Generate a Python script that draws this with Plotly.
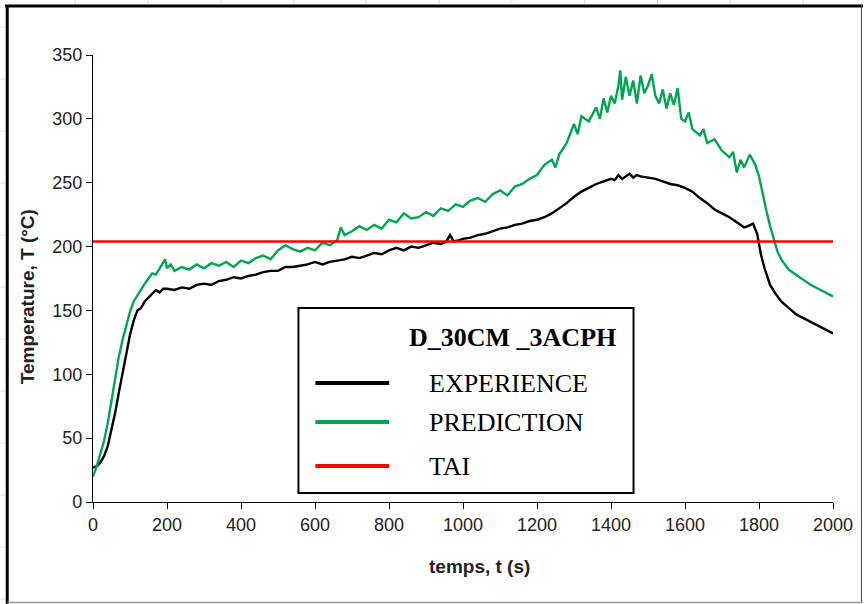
import plotly.graph_objects as go

# ---------------- data ----------------
t_exp = [0, 10, 20, 30, 40, 50, 60, 70, 80, 90, 100, 110, 120, 130, 140, 150, 160, 170, 180, 190,
         200, 220, 240, 260, 280, 300, 320, 340, 360, 380, 400, 420, 440, 460, 480, 500, 520, 540,
         560, 580, 600, 620, 640, 660, 680, 700, 720, 740, 760, 780, 800, 820, 840, 860, 880, 900,
         920, 940, 955, 965, 975, 990, 1000, 1020, 1040, 1060, 1080, 1100, 1120, 1140, 1160, 1180,
         1200, 1220, 1240, 1260, 1280, 1300, 1320, 1340, 1360, 1380, 1400, 1410, 1420, 1430, 1440,
         1450, 1460, 1470, 1480, 1500, 1520, 1540, 1560, 1580, 1600, 1620, 1640, 1660, 1680, 1700,
         1720, 1740, 1760, 1770, 1784, 1795, 1805, 1815, 1830, 1845, 1860, 1880, 1900, 1920, 1940,
         1960, 1980, 2000]
T_exp = [27, 28, 31, 36, 44, 56, 70, 86, 102, 118, 131, 142, 150, 152, 157, 160, 163, 166, 164, 167,
         167, 166, 168, 167, 170, 171, 170, 173, 174, 176, 175, 177, 178, 180, 181, 181, 184, 184,
         185, 186, 188, 186, 188, 189, 190, 192, 191, 193, 195, 194, 197, 199, 197, 200, 199, 201,
         203, 202, 204, 209, 204, 205, 206, 207, 209, 210, 212, 214, 215, 217, 218, 220,
         221, 223, 226, 230, 234, 239, 243, 246, 249, 251, 253, 252, 256, 253, 255,
         257, 254, 256, 255, 254, 253, 251, 249, 248, 246, 243, 238, 234, 229, 226,
         223, 219, 215, 216, 218, 210, 194, 183, 170, 163, 157, 152, 147, 144, 141,
         138, 135, 132]

t_pred = [0, 10, 20, 30, 40, 50, 60, 70, 80, 90, 100, 110, 120, 130, 140, 150, 160, 170, 180, 190,
          195, 200, 210, 220, 240, 260, 280, 300, 320, 340, 360, 380, 400, 420, 440, 460, 480, 500,
          520, 540, 560, 580, 600, 620, 640, 660, 670, 680, 700, 720, 740, 760, 780, 800, 820, 840,
          860, 880, 900, 920, 940, 960, 980, 1000, 1020, 1040, 1060, 1080, 1100, 1120, 1140, 1160,
          1180, 1200, 1220, 1240, 1250, 1260, 1280, 1300, 1310, 1320, 1340, 1360, 1370, 1380, 1390,
          1400, 1410, 1420, 1425, 1430, 1440, 1450, 1460, 1470, 1480, 1490, 1500, 1510, 1520, 1530,
          1540, 1550, 1560, 1570, 1580, 1590, 1600, 1610, 1620, 1640, 1650, 1660, 1680, 1700, 1720,
          1730, 1740, 1750, 1760, 1775, 1790, 1800, 1810, 1820, 1830, 1840, 1850, 1860, 1880, 1900,
          1920, 1940, 1960, 1980, 2000]
T_pred = [20, 28, 38, 48, 62, 80, 98, 114, 127, 138, 149, 157, 162, 166, 171, 175, 179, 178, 183, 187,
          190, 183, 186, 181, 184, 182, 186, 183, 187, 185, 188, 184, 189, 187, 191, 193, 190, 197,
          201, 198, 196, 199, 197, 203, 201, 205, 215, 209, 212, 216, 213, 217, 214, 221, 219, 226,
          222, 223, 227, 224, 230, 228, 233, 231, 236, 238, 235, 241, 244, 240, 247, 249,
          253, 256, 264, 268, 262, 272, 281, 296, 288, 302, 298, 309, 300, 316, 305,
          318, 312, 326, 338, 315, 333, 318, 330, 312, 334, 320, 326, 335, 318, 312,
          323, 308, 320, 311, 324, 300, 298, 305, 292, 287, 292, 281, 284, 275, 270,
          274, 258, 268, 262, 272, 264, 255, 240, 228, 216, 205, 196, 190, 182, 178,
          174, 170, 167, 164, 161]

t_tai = [0, 2000]
T_tai = [204, 204]

x_ticks = [0, 200, 400, 600, 800, 1000, 1200, 1400, 1600, 1800, 2000]
y_ticks = [0, 50, 100, 150, 200, 250, 300, 350]

x_title = "temps, t (s)"
y_title = "Temperature, T (°C)"
legend_title = "D_30CM _3ACPH"
legend_names = ["EXPERIENCE", "PREDICTION", "TAI"]
legend_colors = ["#000000", "#00a651", "#ff0000"]

# ---------------- figure ----------------
W, H = 865, 604
L, R, T, B = 93, 835, 55, 502


def px(xp):
    return (xp - L) / (R - L)


def py(yp):
    return (B - yp) / (B - T)


fig = go.Figure()
fig.add_trace(go.Scatter(x=t_exp, y=T_exp, mode="lines", name=legend_names[0],
                         line=dict(color=legend_colors[0], width=2.4)))
fig.add_trace(go.Scatter(x=t_pred, y=T_pred, mode="lines", name=legend_names[1],
                         line=dict(color=legend_colors[1], width=2.4)))
fig.add_trace(go.Scatter(x=t_tai, y=T_tai, mode="lines", name=legend_names[2],
                         line=dict(color=legend_colors[2], width=2.4)))

shapes = []
annotations = []

# axis titles
annotations.append(dict(xref="paper", yref="paper", x=px(481), y=py(566), text="<b>%s</b>" % x_title,
                        showarrow=False, xanchor="center", yanchor="middle",
                        font=dict(family="Liberation Sans, Arial", size=19, color="#222222")))
annotations.append(dict(xref="paper", yref="paper", x=px(27), y=py(297), text="<b>%s</b>" % y_title,
                        showarrow=False, xanchor="center", yanchor="middle", textangle=-90,
                        font=dict(family="Liberation Sans, Arial", size=19, color="#222222")))

# legend box
shapes.append(dict(type="rect", xref="paper", yref="paper",
                   x0=px(299), x1=px(635), y0=py(493), y1=py(308),
                   line=dict(color="black", width=2), fillcolor="white", layer="above"))
annotations.append(dict(xref="paper", yref="paper", x=px(514), y=py(337), text="<b>%s</b>" % legend_title,
                        showarrow=False, xanchor="center", yanchor="middle",
                        font=dict(family="Liberation Serif", size=26, color="black")))
legend_y = [383, 422, 466]
for name, col, yy in zip(legend_names, legend_colors, legend_y):
    shapes.append(dict(type="line", xref="paper", yref="paper",
                       x0=px(316), x1=px(390), y0=py(yy), y1=py(yy),
                       line=dict(color=col, width=4), layer="above"))
    annotations.append(dict(xref="paper", yref="paper", x=px(428), y=py(yy), text=name,
                            showarrow=False, xanchor="left", yanchor="middle",
                            font=dict(family="Liberation Serif", size=26, color="black")))

# outer frame (Excel chart area)
shapes.append(dict(type="line", xref="paper", yref="paper", x0=px(5), x1=px(865), y0=py(6), y1=py(6),
                   line=dict(color="black", width=3)))
shapes.append(dict(type="line", xref="paper", yref="paper", x0=px(7), x1=px(7), y0=py(5), y1=py(604),
                   line=dict(color="black", width=3)))
shapes.append(dict(type="line", xref="paper", yref="paper", x0=px(863.5), x1=px(863.5), y0=py(6), y1=py(603),
                   line=dict(color="#444444", width=1)))
shapes.append(dict(type="line", xref="paper", yref="paper", x0=px(7), x1=px(865), y0=py(602.5), y1=py(602.5),
                   line=dict(color="#999999", width=1.5)))
# faint spreadsheet grid outside the frame
for xv in [75, 148, 221, 294, 367, 440, 513, 586, 659, 732, 805]:
    shapes.append(dict(type="line", xref="paper", yref="paper", x0=px(xv), x1=px(xv), y0=py(0), y1=py(4),
                       line=dict(color="#dddddd", width=1)))
for yv in [27, 79, 131, 183, 235, 287, 339, 391, 443, 495, 547, 599]:
    shapes.append(dict(type="line", xref="paper", yref="paper", x0=px(0), x1=px(5), y0=py(yv), y1=py(yv),
                       line=dict(color="#dddddd", width=1)))

fig.update_layout(
    width=W, height=H,
    margin=dict(l=L, r=W - R, t=T, b=H - B, pad=0),
    paper_bgcolor="white", plot_bgcolor="white",
    showlegend=False,
    shapes=shapes, annotations=annotations,
    font=dict(family="Liberation Sans, Arial", size=18, color="#222222"),
)
fig.update_xaxes(range=[0, 2000], tickvals=x_ticks, ticktext=[str(v) for v in x_ticks],
                 showgrid=False, zeroline=False, showline=True, linecolor="black", linewidth=1.2,
                 ticks="outside", ticklen=6, tickcolor="black", tickwidth=1.2,
                 tickfont=dict(size=18, color="#222222"))
fig.update_yaxes(range=[0, 350], tickvals=y_ticks, ticktext=[str(v) for v in y_ticks],
                 showgrid=False, zeroline=False, showline=True, linecolor="black", linewidth=1.2,
                 ticks="outside", ticklen=6, tickcolor="black", tickwidth=1.2,
                 tickfont=dict(size=18, color="#222222"))

fig.write_html("out.html")
